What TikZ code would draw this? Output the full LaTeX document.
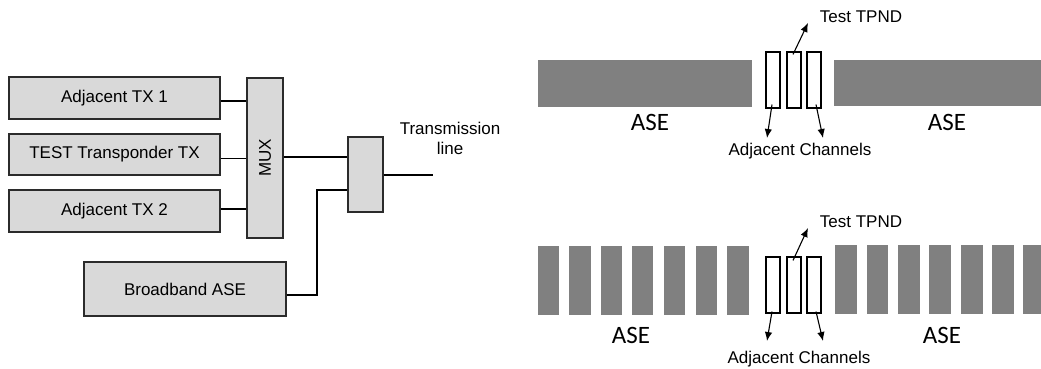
\documentclass[tikz,border=0pt]{standalone}
\usepackage{fontspec}
\setmainfont{Liberation Sans}
\newfontfamily\asefont{Carlito}
\usetikzlibrary{arrows.meta}
\definecolor{boxfill}{HTML}{D9D9D9}
\definecolor{asegray}{HTML}{808080}
\definecolor{edge}{HTML}{2B2B2B}
\tikzset{
  blk/.style={draw=edge, line width=1.1pt, fill=boxfill, inner sep=0pt, font=\fontsize{17}{20}\selectfont},
  wire/.style={draw=black, line width=1.1pt},
  chan/.style={draw=black, line width=1.1pt, fill=white, inner sep=0pt, minimum width=14pt},
  asebar/.style={fill=asegray, draw=none},
  lbl/.style={font=\fontsize{17}{20}\selectfont, inner sep=0pt},
  aselbl/.style={font=\asefont\fontsize{25}{28}\selectfont, inner sep=0pt},
  arr/.style={line width=1.1pt, -{Latex[length=9pt,width=7.5pt]}}
}
\begin{document}
\begin{tikzpicture}[x=1pt,y=-1pt]
\useasboundingbox (0,0) rectangle (1041,368);
% ---------- left block diagram ----------
\node[blk, minimum width=211pt, minimum height=42pt] (tx1) at (114.5,98) {Adjacent TX 1};
\node[blk, minimum width=211pt, minimum height=41pt] (test) at (114.5,154.5) {TEST Transponder TX};
\node[blk, minimum width=211pt, minimum height=42pt] (tx2) at (114.5,211) {Adjacent TX 2};
\node[blk, minimum width=36pt, minimum height=160pt] (mux) at (265,158) {};
\node[lbl, rotate=90] (muxl) at (mux.center) {MUX};
\node[blk, minimum width=35pt, minimum height=75pt] (comb) at (365.5,174.5) {};
\node[blk, minimum width=202pt, minimum height=54pt] (bb) at (185,289) {Broadband ASE};
\node[lbl, align=center] (tline) at (450,138) {Transmission\\line};

\draw[wire] ([yshift=-3pt]tx1.east) -- ([yshift=-3pt]tx1.east -| mux.west);
\draw[wire] ([yshift=-4pt]test.east) -- ([yshift=-4pt]test.east -| mux.west);
\draw[wire] ([yshift=2pt]tx2.east) -- ([yshift=2pt]tx2.east -| mux.west);
\draw[wire] ([yshift=1pt]mux.east) -- ([yshift=1pt]mux.east -| comb.west);
\coordinate (bbout) at ([yshift=-6pt]bb.east);
\coordinate (bend) at (317,190);
\draw[wire] (bbout) -| (bend) -- (bend -| comb.west);
\coordinate (tlend) at (433,175);
\draw[wire] (comb.east |- tlend) -- (tlend);

% ---------- top spectrum ----------
\fill[asebar] (538,60) rectangle (752,107);
\fill[asebar] (834,60) rectangle (1041,106);
\node[chan, minimum height=56pt] (a1) at (773,80) {};
\node[chan, minimum height=56pt] (t1) at (794,80) {};
\node[chan, minimum height=56pt] (b1) at (814,80) {};
\node[lbl] (tt1) at (861,17) {Test TPND};
\node[lbl] (ac1) at (800,151) {Adjacent Channels};
\node[aselbl] (ase1l) at (650,122) {ASE};
\node[aselbl] (ase1r) at (947,122) {ASE};
\coordinate (tt1a) at (808,23);
\coordinate (ac1a) at (767,138);
\coordinate (ac1b) at (823,138);
\draw[arr] ([xshift=-1pt,yshift=-3pt]t1.north) -- (tt1a);
\draw[arr] ([xshift=-1pt,yshift=4pt]a1.south) -- (ac1a);
\draw[arr] ([xshift=2pt,yshift=4pt]b1.south) -- (ac1b);

% ---------- bottom spectrum ----------
\foreach \xa/\xb in {538/559,569/591,601/622,632/653,664/685,696/717,727/749}
  \fill[asebar] (\xa,246) rectangle (\xb,315);
\foreach \xa/\xb in {835/857,867/888,898/920,929/951,961/983,992/1014,1023/1041}
  \fill[asebar] (\xa,245) rectangle (\xb,314);
\node[chan, minimum height=56pt] (a2) at (773,285) {};
\node[chan, minimum height=56pt] (t2) at (794,285) {};
\node[chan, minimum height=56pt] (b2) at (814,285) {};
\node[lbl] (tt2) at (861,222) {Test TPND};
\node[lbl] (ac2) at (799,359) {Adjacent Channels};
\node[aselbl] (ase2l) at (631,335) {ASE};
\node[aselbl] (ase2r) at (942,335) {ASE};
\coordinate (tt2a) at (808,228);
\coordinate (ac2a) at (767,341);
\coordinate (ac2b) at (823,341);
\draw[arr] ([xshift=-1pt,yshift=-4pt]t2.north) -- (tt2a);
\draw[arr] ([xshift=-1pt,yshift=2pt]a2.south) -- (ac2a);
\draw[arr] ([xshift=2pt,yshift=2pt]b2.south) -- (ac2b);
\end{tikzpicture}
\end{document}
